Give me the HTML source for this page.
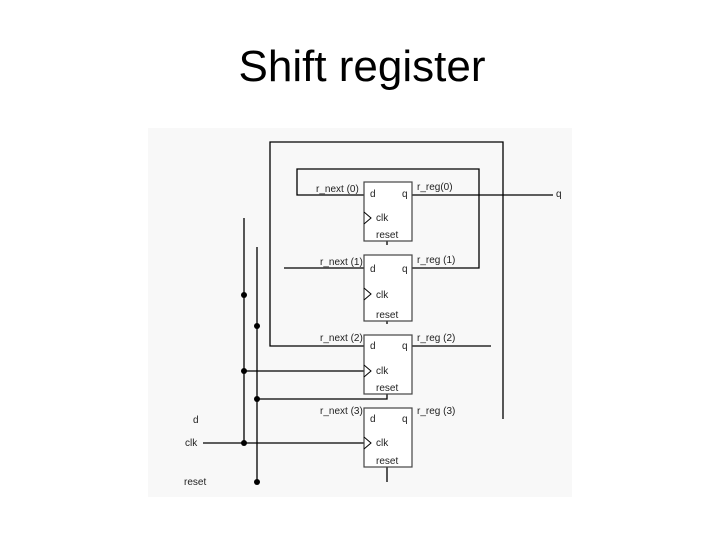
<!DOCTYPE html>
<html><head><style>
body{margin:0;width:720px;height:540px;background:#fff;overflow:hidden;font-family:"Liberation Sans",sans-serif}
h1{position:absolute;top:42px;left:0;width:724px;text-align:center;margin:0;font-weight:normal;font-size:44px;color:#000}
svg{position:absolute;left:0;top:0}
</style></head><body>
<h1>Shift register</h1>
<svg width="720" height="540" font-family="Liberation Sans, sans-serif" font-size="10" fill="none">
<rect x="148" y="128" width="424" height="369" fill="#f8f8f8"/>
<g stroke="#000" stroke-width="1.3">
<polyline points="364,346 270,346 270,142 503,142 503,419"/>
<polyline points="364,195 297,195 297,169 479,169 479,268 412,268"/>
<line x1="412" y1="195" x2="553" y2="195"/>
<line x1="284" y1="268" x2="364" y2="268"/>
<line x1="412" y1="346" x2="491" y2="346"/>
<line x1="244" y1="218" x2="244" y2="443"/>
<line x1="257" y1="247" x2="257" y2="482"/>
<line x1="244" y1="371" x2="364" y2="371"/>
<line x1="203" y1="443" x2="364" y2="443"/>
<polyline points="387,394 387,399 257,399"/>
<line x1="387" y1="241" x2="387" y2="245"/>
<line x1="387" y1="321" x2="387" y2="324"/>
<line x1="387" y1="467" x2="387" y2="482"/>
</g>
<g stroke="#444" stroke-width="1.2" fill="#fff">
<rect x="364" y="182" width="48" height="59"/>
<rect x="364" y="255" width="48" height="66"/>
<rect x="364" y="335" width="48" height="59"/>
<rect x="364" y="408" width="48" height="59"/>
</g>
<g stroke="#000" stroke-width="1">
<polyline points="364,212 371,218 364,224"/>
<polyline points="364,288 371,294 364,300"/>
<polyline points="364,365 371,371 364,377"/>
<polyline points="364,437 371,443 364,449"/>
</g>
<g fill="#000">
<circle cx="244" cy="295" r="3"/><circle cx="257" cy="326" r="3"/>
<circle cx="244" cy="371" r="3"/><circle cx="257" cy="399" r="3"/>
<circle cx="244" cy="443" r="3"/><circle cx="257" cy="482" r="3"/>
</g>
<g fill="#222">
<text x="370" y="197">d</text><text x="402" y="197">q</text><text x="376" y="221">clk</text><text x="376" y="238">reset</text>
<text x="370" y="272">d</text><text x="402" y="272">q</text><text x="376" y="298">clk</text><text x="376" y="318">reset</text>
<text x="370" y="349">d</text><text x="402" y="349">q</text><text x="376" y="374">clk</text><text x="376" y="391">reset</text>
<text x="370" y="422">d</text><text x="402" y="422">q</text><text x="376" y="446">clk</text><text x="376" y="464">reset</text>
<text x="316" y="192">r_next (0)</text><text x="417" y="190">r_reg(0)</text>
<text x="320" y="265">r_next (1)</text><text x="417" y="263">r_reg (1)</text>
<text x="320" y="341">r_next (2)</text><text x="417" y="341">r_reg (2)</text>
<text x="320" y="414">r_next (3)</text><text x="417" y="414">r_reg (3)</text>
<text x="556" y="197">q</text>
<text x="193" y="423">d</text><text x="185" y="446">clk</text><text x="184" y="485">reset</text>
</g>
</svg>
</body></html>
